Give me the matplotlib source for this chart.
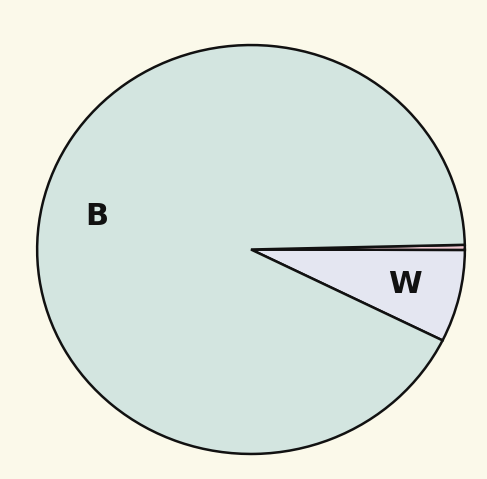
import matplotlib
matplotlib.use("Agg")
import matplotlib.pyplot as plt

categories = ["W", "", "B"]
values = [7.3, 0.4, 92.3]
colors = ["#e4e6f1", "#f1c9d2", "#d3e5e0"]
bg = "#fbf9ea"

fig = plt.figure(figsize=(4.87, 4.79), dpi=100, facecolor=bg)
ax = fig.add_axes([35/487, 23/479, 432/487, 413/479])
ax.set_facecolor(bg)
wedges, texts = ax.pie(values, labels=categories, colors=colors, startangle=-26.4,
                       labeldistance=0.74,
                       wedgeprops=dict(edgecolor="#111111", linewidth=1.8),
                       textprops=dict(fontsize=22, fontweight="bold", color="#111111",
                                      ha="center", va="center"))
ax.set_xlim(-1.01, 1.01)
ax.set_ylim(-1.01, 1.01)
ax.set_aspect("auto")
ax.axis("off")
fig.savefig("out.png", dpi=100, facecolor=bg)
